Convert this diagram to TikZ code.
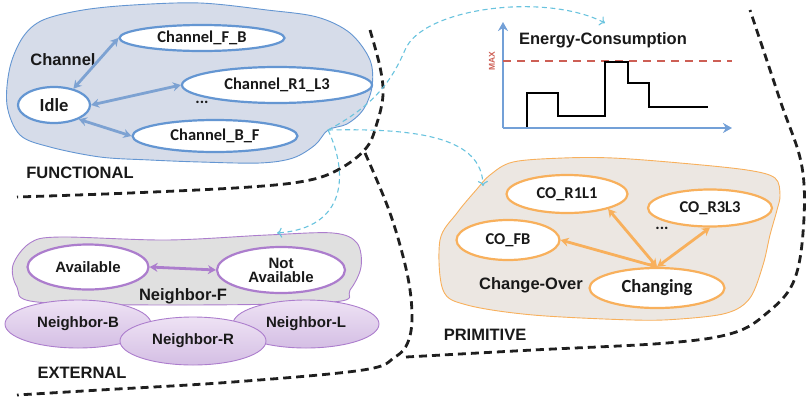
\documentclass[tikz,border=0pt]{standalone}
\usepackage{fontspec}
\setmainfont{Liberation Sans}
\newfontfamily\calib{Carlito}
\usetikzlibrary{shapes, arrows.meta, positioning}
\usepackage{xcolor}
\definecolor{txt}{RGB}{25,25,25}
\definecolor{chanblue}{RGB}{100,150,210}
\definecolor{chanarrow}{RGB}{125,162,210}
\definecolor{fblobfill}{RGB}{214,220,233}
\definecolor{nbpurple}{RGB}{172,125,205}
\definecolor{nbtop}{RGB}{238,226,244}
\definecolor{nbbot}{RGB}{212,190,228}
\definecolor{coorange}{RGB}{248,176,92}
\definecolor{coblobfill}{RGB}{236,231,226}
\definecolor{flowcyan}{RGB}{105,195,222}
\definecolor{axisblue}{RGB}{115,160,215}
\definecolor{maxred}{RGB}{205,95,85}
\tikzstyle{chan} = [ellipse, draw=chanblue, line width=2.2pt, fill=white, inner sep=0pt,
    text=txt, font=\calib\bfseries\fontsize{16.5}{18}\selectfont]
\tikzstyle{avail} = [ellipse, draw=nbpurple, line width=2.2pt, fill=white, inner sep=0pt,
    align=center, text=txt, font=\bfseries\fontsize{15}{14}\selectfont]
\tikzstyle{nbr} = [ellipse, draw=nbpurple, line width=0.9pt, top color=nbtop, bottom color=nbbot,
    inner sep=0pt, minimum width=146pt, minimum height=48pt, text=txt,
    font=\bfseries\fontsize{15}{18}\selectfont]
\tikzstyle{co} = [ellipse, draw=coorange, line width=2.2pt, fill=white, inner sep=0pt,
    text=txt, font=\calib\bfseries\fontsize{16.5}{18}\selectfont]
\tikzstyle{lbl} = [inner sep=0pt, text=txt, font=\bfseries\fontsize{16.5}{18}\selectfont]
\tikzstyle{border} = [draw=black!88, line width=2.8pt, dash pattern=on 8pt off 5pt]
\tikzstyle{flow} = [draw=flowcyan, line width=1.1pt, dash pattern=on 5pt off 3.5pt,
    -{To[length=5pt,width=10pt]}]
\tikzstyle{blueline} = [draw=chanarrow, line width=2.8pt,
    {Stealth[length=8pt,width=9pt]}-{Stealth[length=8pt,width=9pt]}]
\tikzstyle{purpleline} = [draw=nbpurple, line width=2.8pt,
    {Stealth[length=8pt,width=9pt]}-{Stealth[length=8pt,width=9pt]}]
\tikzstyle{orangeline} = [draw=coorange, line width=2.8pt,
    {Stealth[length=8pt,width=9pt]}-{Stealth[length=8pt,width=9pt]}]
\tikzstyle{axis} = [draw=axisblue, line width=2.6pt, -{Stealth[length=9pt,width=10pt]}]

\begin{document}
\begin{tikzpicture}[x=1pt, y=-1pt]
        \useasboundingbox (0,0) rectangle (806,405);

        % Regions
        \path [border] plot [smooth, tension=0.6] coordinates {(370,30) (380,67) (383,95) (377,123)
            (367,147) (343,167) (310,180) (250,187) (130,193) (17,197)};
        \path [border] plot [smooth, tension=0.6] coordinates {(365,153) (390,213) (407,273) (412,315)
            (408,342) (395,357) (363,370) (233,382) (100,390) (17,395)};
        \path [border] plot [smooth, tension=0.6] coordinates {(406,357) (533,350) (667,343) (733,333)
            (767,313) (793,283) (803,233) (802,167) (780,100) (750,10)};

        % Functional
        \draw [chanblue, line width=0.9pt, fill=fblobfill] plot [smooth cycle, tension=0.55] coordinates {
            (7,105) (10,67) (23,37) (43,20) (83,10) (133,5) (200,3) (267,10) (317,17) (350,33)
            (370,60) (372,87) (363,110) (347,124) (328,130) (315,145) (293,158) (260,163)
            (200,162) (150,160) (100,157) (50,147) (20,135)};
        \node [chan, minimum width=72pt, minimum height=36pt, font=\calib\bfseries\fontsize{18.5}{20}\selectfont] (idle) at (54,105) {Idle};
        \node [chan, minimum width=165pt, minimum height=26pt] (chfb) at (202,38) {Channel\_F\_B};
        \node [chan, minimum width=190pt, minimum height=36pt] (chr1) at (277,85) {Channel\_R1\_L3};
        \node [chan, minimum width=165pt, minimum height=32pt] (chbf) at (215,136) {Channel\_B\_F};
        \node [lbl] (chlbl) at (63,60) {Channel};
        \node [lbl, font=\calib\bfseries\fontsize{16.5}{18}\selectfont] (chdots) at (202,102) {...};
        \node [lbl] (funclbl) at (80,173) {FUNCTIONAL};
        \path [blueline] (idle.40) -- (chfb.west);
        \path [blueline] (idle.east) -- (chr1.west);
        \path [blueline] (idle.-30) -- (chbf.west);
        \coordinate (fpt) at (328,130);

        % External
        \draw [nbpurple, line width=0.9pt, fill=black!12] plot [smooth cycle, tension=0.55] coordinates {
            (13,265) (30,243) (60,237) (167,240) (267,235) (333,233) (357,243) (361,267)
            (350,290) (333,302) (180,305) (37,302) (17,287)};
        \node [avail, minimum width=121pt, minimum height=45pt] (avl) at (88,267) {Available};
        \node [avail, minimum width=128pt, minimum height=46pt] (navl) at (281,270) {Not\\Available};
        \path [purpleline] (avl.east) -- (navl.west);
        \node [lbl] (nflbl) at (183,296) {Neighbor-F};
        \node [nbr] (nbb) at (78,324) {Neighbor-B};
        \node [nbr] (nbl) at (306,324) {Neighbor-L};
        \node [nbr] (nbrr) at (193,341) {Neighbor-R};
        \node [lbl] (extlbl) at (82,373) {EXTERNAL};
        \coordinate (nfin) at (277,233);

        % Energy chart
        \coordinate (org) at (503,128);
        \coordinate (ytop) at (503,22);
        \coordinate (xend) at (732,128);
        \path [axis] (org) -- (ytop);
        \path [axis] (org) -- (xend);
        \draw [maxred, line width=2.2pt, dash pattern=on 8pt off 6pt] (503,61) -- (732,61);
        \node [rotate=90, inner sep=0pt, text=maxred, font=\bfseries\fontsize{8.5}{9}\selectfont] (maxlbl) at (492,61) {MAX};
        \draw [black, line width=2.4pt] (527,127) -- (527,93) -- (558,93) -- (558,116) -- (605,116)
            -- (605,62) -- (628,62) -- (628,83) -- (649,83) -- (649,107) -- (708,107);
        \node [lbl] (enlbl) at (603,40) {Energy-Consumption};
        \coordinate (ecin) at (605,23);

        % Primitive
        \draw [coorange, line width=0.9pt, fill=coblobfill] plot [smooth cycle, tension=0.55] coordinates {
            (440,240) (457,213) (477,189) (490,175) (513,162) (563,158) (613,158) (680,163)
            (747,170) (775,178) (780,195) (777,210) (770,235) (763,265) (750,298) (727,313)
            (680,319) (633,320) (533,315) (467,305) (443,290)};
        \node [co, minimum width=121pt, minimum height=38pt] (cor1) at (567,194) {CO\_R1L1};
        \node [co, minimum width=124pt, minimum height=37pt] (cor3) at (710,208) {CO\_R3L3};
        \node [co, minimum width=103pt, minimum height=40pt] (cofb) at (508,240) {CO\_FB};
        \node [co, minimum width=135pt, minimum height=40pt, font=\calib\bfseries\fontsize{18.5}{20}\selectfont] (chg) at (657,288) {Changing};
        \node [lbl] (colbl) at (531,285) {Change-Over};
        \node [lbl, font=\calib\bfseries\fontsize{16.5}{18}\selectfont] (codots) at (662,228) {...};
        \node [lbl] (primlbl) at (485,335) {PRIMITIVE};
        \path [orangeline] (chg.north) -- (cofb.east);
        \path [orangeline] (chg.north) -- (cor1.-20);
        \path [orangeline] (chg.north) -- (cor3.south);
        \coordinate (coin) at (483,186);

        % Flows
        \path [flow] (fpt) .. controls (375,105) and (392,80) .. (405,50)
            .. controls (422,8) and (545,-8) .. (ecin);
        \path [flow] (fpt) .. controls (420,128) and (482,138) .. (coin);
        \path [flow] (fpt) .. controls (348,172) and (348,228) .. (nfin);
    \end{tikzpicture}
\end{document}
